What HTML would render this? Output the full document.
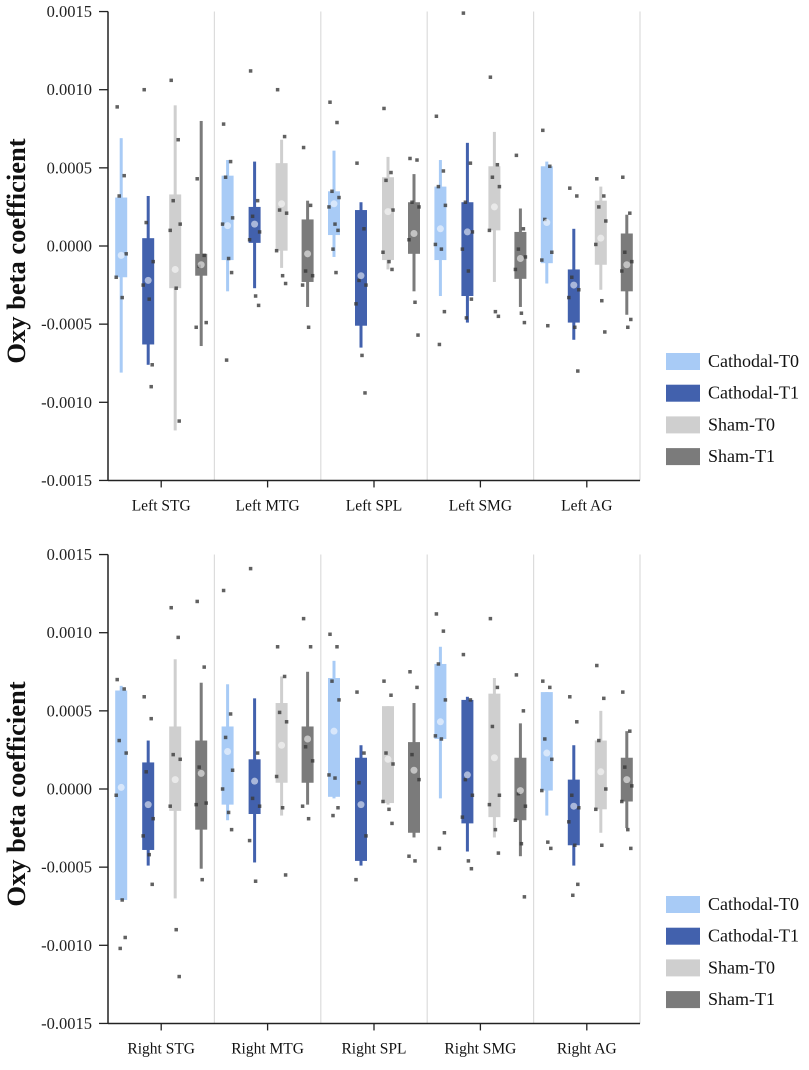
<!DOCTYPE html>
<html><head><meta charset="utf-8"><style>
html,body{margin:0;padding:0;background:#fff;}
svg{display:block;font-family:"Liberation Serif",serif;}
</style></head><body>
<svg id="chart" width="809" height="1070" viewBox="0 0 809 1070" xmlns="http://www.w3.org/2000/svg"></svg>
<script>
// units of 1e-4
const topCategories = ["Left STG","Left MTG","Left SPL","Left SMG","Left AG"];
const bottomCategories = ["Right STG","Right MTG","Right SPL","Right SMG","Right AG"];
const seriesNames = ["Cathodal-T0","Cathodal-T1","Sham-T0","Sham-T1"];
const yTicks = [15,10,5,0,-5,-10,-15];
const yTickLabels = ["0.0015","0.0010","0.0005","0.0000","-0.0005","-0.0010","-0.0015"];
// [whiskerLow, q1, q3, whiskerHigh, mean]
const topBoxes = [
 [[-8.1,-2.0,3.1,6.9,-0.6],[-7.6,-6.3,0.5,3.2,-2.2],[-11.8,-2.7,3.3,9.0,-1.5],[-6.4,-1.9,-0.5,8.0,-1.2]],
 [[-2.9,-0.9,4.5,5.5,1.3],[-2.7,0.2,2.5,5.4,1.4],[-1.4,-0.3,5.3,6.8,2.7],[-3.9,-2.3,1.7,2.9,-0.5]],
 [[-0.7,0.7,3.5,6.1,2.7],[-6.5,-5.1,2.3,2.8,-1.9],[-1.5,-0.9,4.4,5.7,2.2],[-2.9,-0.5,2.8,4.6,0.8]],
 [[-3.2,-0.9,3.8,5.5,1.1],[-4.9,-3.2,2.8,6.6,0.9],[-2.3,1.0,5.1,7.3,2.5],[-3.9,-2.1,0.9,2.4,-0.8]],
 [[-2.4,-1.1,5.1,5.4,1.5],[-6.0,-4.9,-1.5,1.1,-2.5],[-2.8,-1.2,2.9,3.8,0.5],[-4.4,-2.9,0.8,2.0,-1.2]]
];
const topPoints = [
 [[8.9,4.5,3.2,-0.5,-2.0,-3.3],[10,-9,1.5,-1,-2.5,-3.4,-7.6],[10.6,6.8,2.9,1.4,1.0,-2.7,-11.2],[4.3,-0.6,-1.3,-4.9,-5.2]],
 [[7.8,5.4,4.4,1.8,1.4,-0.8,-1.7,-7.3],[11.2,2.9,1.9,0.9,0.4,-3.2,-3.8],[10,7,2.3,2.1,-0.3,-1.9,-2.4],[6.3,2.6,-1.6,-1.9,-2.5,-5.2]],
 [[9.2,7.9,3.5,3.1,2.5,1.4,1.0,-0.2,-1.7],[5.3,1.1,-2.2,-2.5,-3.7,-7,-9.4],[8.8,4.7,4.2,2.3,-0.4,-1.0,-1.5],[5.6,5.5,2.8,2.5,0.4,-3.6,-5.7]],
 [[8.3,4.8,3.8,2.6,0.1,-0.2,-4.2,-6.3],[14.9,5.3,2.8,0.9,-0.2,-1.6,-3.4,-4.6],[10.8,5.2,4.4,3.8,1.0,-4.2,-4.5],[5.8,1.1,-0.2,-0.7,-1.5,-4.3,-4.9]],
 [[7.4,5.1,1.7,-0.4,-0.9,-5.1],[3.7,3.2,-2.0,-2.8,-3.3,-5.2,-8.0],[4.3,3.2,2.5,1.6,0.1,-3.5,-5.5],[4.4,2.1,-0.4,-1.0,-1.6,-5.2,-4.7]]
];
const bottomBoxes = [
 [[-7.1,-7.1,6.3,6.6,0.1],[-4.9,-3.9,1.7,3.1,-1.0],[-7.0,-1.4,4.0,8.3,0.6],[-5.1,-2.6,3.1,6.8,1.0]],
 [[-2.0,-1.0,4.0,6.7,2.4],[-4.7,-1.6,1.9,5.8,0.5],[-1.7,0.4,5.5,7.2,2.8],[-1.0,0.4,4.0,7.5,3.2]],
 [[-0.6,-0.5,7.1,8.2,3.7],[-4.9,-4.6,2.0,2.8,-1.0],[-1.0,-0.9,5.3,5.3,1.9],[-3.1,-2.8,3.0,5.5,1.2]],
 [[-0.6,3.2,8.0,9.1,4.3],[-4.0,-2.2,5.7,5.9,0.9],[-3.1,-1.8,6.1,7.1,2.0],[-4.3,-2.0,2.0,4.2,-0.1]],
 [[-1.7,-0.1,6.2,6.2,2.3],[-4.9,-3.6,0.6,2.8,-1.1],[-2.8,-1.3,3.1,5.0,1.1],[-2.5,-0.8,2.0,3.7,0.6]]
];
const bottomPoints = [
 [[7.0,6.4,3.1,2.3,-0.4,-7.1,-9.5,-10.2],[5.9,4.5,1.1,-1.9,-3.0,-4.2,-6.1],[11.6,9.7,2.2,1.9,-1.1,-9,-12],[12,7.8,1.4,-0.9,-1.0,-5.8]],
 [[12.7,4.8,3.3,1.2,0.0,-1.5,-2.6],[14.1,2.3,-0.6,-1.1,-3.3,-5.9],[9.1,7.2,4.9,4.3,0.8,-1.2,-5.5],[10.9,9.1,2.7,1.8,-1.1,-1.9]],
 [[9.9,9.1,6.9,5.7,0.9,0.7,-1.2,-1.7],[6.2,2.3,0.4,-3.0,-5.8],[6.9,6.0,2.3,1.6,-0.8,-1.3,-2.2],[7.5,6.5,2.2,0.6,-4.3,-4.6]],
 [[11.2,10.1,8.0,5.7,3.4,3.2,-2.8,-3.8],[8.6,5.7,0.6,-0.4,-1.8,-4.6,-5.1],[10.9,6.5,4.0,-0.4,-1.0,-2.6,-4.1],[7.3,5.0,-0.3,-1.1,-2.0,-3.5,-6.9]],
 [[6.9,6.5,3.2,1.9,-0.1,-3.4,-3.8],[5.9,4.3,-0.4,-1.2,-2.1,-3.6,-6.1,-6.8],[7.9,5.8,3.1,0.0,-1.3,-3.6],[6.2,3.7,1.4,0.2,-0.8,-2.6,-3.8]]
];
const colors = ["#a8cbf6","#4261ad","#cfcfcf","#7b7b7b"];
const NS = "http://www.w3.org/2000/svg";
const svg = document.getElementById('chart');
function el(tag, attrs, parent){ const e=document.createElementNS(NS,tag); for(const k in attrs) e.setAttribute(k,attrs[k]); (parent||svg).appendChild(e); return e; }
const xLeft=108, xRight=640, groupW=(xRight-xLeft)/5, offs=[-40,-13,14,40];
const jit=[-4,3,-2,5,-5,1,4,-1,2,-3];
function drawPanel(dy, cats, boxes, pts, pname){
  const g=el('g',{});
  
  
  const y = v => dy + 246 - v*15.63;
  for(let i=1;i<=5;i++){
    const s=el('line',{x1:xLeft+i*groupW,x2:xLeft+i*groupW,y1:y(15),y2:y(-15),stroke:'#dcdcdc','stroke-width':1.2},g);
    
    
  }
  const ya=el('line',{x1:xLeft,x2:xLeft,y1:y(15),y2:y(-15)+0.5,stroke:'#222','stroke-width':1.5},g);
  
  
  yTicks.forEach((t,i)=>{
    el('line',{x1:xLeft-9,x2:xLeft,y1:y(t),y2:y(t),stroke:'#222','stroke-width':1.3},g);
    const tx=el('text',{x:xLeft-16,y:y(t)+5.5,'text-anchor':'end','font-size':16.5,fill:'#222'},g);
    tx.textContent=yTickLabels[i];
    
    
  });
  const xa=el('line',{x1:xLeft,x2:xRight,y1:y(-15),y2:y(-15),stroke:'#222','stroke-width':1.5},g);
  
  
  const yt=el('text',{x:0,y:0,transform:`translate(25,${y(0)+5}) rotate(-90)`,'text-anchor':'middle','font-size':26.5,'font-weight':'bold',fill:'#111'},g);
  yt.textContent='Oxy beta coefficient';
  
  
  cats.forEach((c,ci)=>{
    const cx=xLeft+groupW*(ci+0.5);
    el('line',{x1:cx,x2:cx,y1:y(-15),y2:y(-15)+7,stroke:'#222','stroke-width':1.3},g);
    const lt=el('text',{x:cx,y:y(-15)+30,'text-anchor':'middle','font-size':15.5,fill:'#111'},g);
    lt.textContent=c;
    
    
    boxes[ci].forEach((b,si)=>{
      const bx=cx+offs[si];
      const w=el('rect',{x:bx-1.5,y:y(b[3]),width:3,height:y(b[0])-y(b[3]),fill:colors[si]},g);
      
      
      const r=el('rect',{x:bx-6,y:y(b[2]),width:12,height:Math.max(1,y(b[1])-y(b[2])),fill:colors[si]},g);
      
      
      pts[ci][si].forEach((p,pi)=>{
        const d=el('rect',{x:bx+jit[pi%jit.length]-1.75,y:y(p)-1.75,width:3.5,height:3.5,fill:'#3a3a3a','fill-opacity':0.8},g);
        
        
      });
      const m=el('circle',{cx:bx,cy:y(b[4]),r:3.5,fill:'#fff','fill-opacity':0.55},g);
      
      
    });
  });
  seriesNames.forEach((n,i)=>{
    const sy=dy+353+i*31.7;
    const sw=el('rect',{x:666,y:sy,width:34,height:17,fill:colors[i]},g);
    
    
    const lt=el('text',{x:708,y:sy+14,'font-size':18,fill:'#111'},g);
    lt.textContent=n;
    
    
  });
}
drawPanel(0, topCategories, topBoxes, topPoints, 'left-hemisphere-panel');
drawPanel(543, bottomCategories, bottomBoxes, bottomPoints, 'right-hemisphere-panel');
</script>
</body></html>
